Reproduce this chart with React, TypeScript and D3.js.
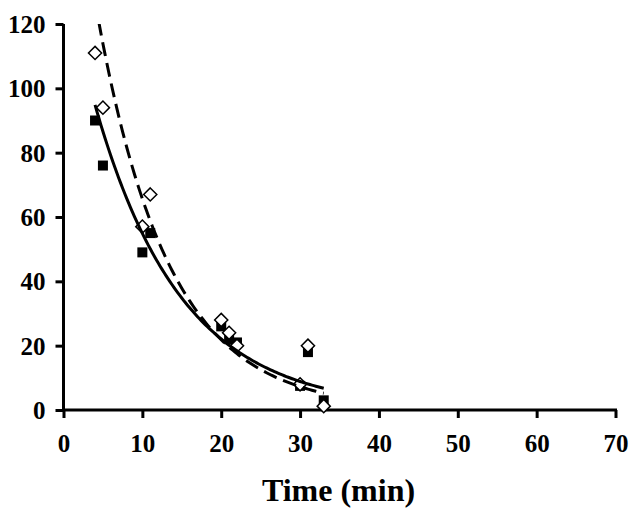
import React, { useEffect, useRef } from 'react';
import * as d3 from 'd3';

// time (min)
const timesFilled = [4, 5, 10, 11, 20, 21, 22, 30, 31, 33];
const valuesFilled = [90, 76, 49, 55, 26, 22, 21, 7.5, 18, 3];
const timesOpen = [4, 5, 10, 11, 20, 21, 22, 30, 31, 33];
const valuesOpen = [111, 94, 57, 67, 28, 24, 20, 8, 20, 1.2];

const xTicks = [0, 10, 20, 30, 40, 50, 60, 70];
const yTicks = [0, 20, 40, 60, 80, 100, 120];
const xTitle = 'Time (min)';

// exponential trendline, least squares on ln(y)
function expFit(xs: number[], ys: number[]) {
  const ly = ys.map(v => Math.log(v));
  const mx = d3.mean(xs) as number;
  const my = d3.mean(ly) as number;
  let sxy = 0, sxx = 0;
  xs.forEach((x, i) => { sxy += (x - mx) * (ly[i] - my); sxx += (x - mx) * (x - mx); });
  const b = sxy / sxx;
  const a = Math.exp(my - b * mx);
  return (x: number) => a * Math.exp(b * x);
}

const W = 637, H = 516;
const left = 63.5, right = 615.5, top = 24, bottom = 410;

const App = () => {
  const ref = useRef<SVGSVGElement>(null);

  useEffect(() => {
    const svg = d3.select(ref.current);
    svg.selectAll('*').remove();

    const x = d3.scaleLinear().domain([0, 70]).range([left, right]);
    const y = d3.scaleLinear().domain([0, 120]).range([bottom, top]);
    const font = '"Liberation Serif", "Times New Roman", serif';

    svg.append('defs').append('clipPath').attr('id', 'plot')
      .append('rect').attr('x', left).attr('y', top).attr('width', right - left).attr('height', bottom - top);

    const xAxis = svg.append('g').attr('transform', `translate(0,${bottom})`)
      .call(d3.axisBottom(x).tickValues(xTicks).tickSize(8).tickPadding(16).tickSizeOuter(0));
    const yAxis = svg.append('g').attr('transform', `translate(${left},0)`)
      .call(d3.axisLeft(y).tickValues(yTicks).tickSize(8).tickPadding(10).tickSizeOuter(0));

    [xAxis, yAxis].forEach(g => {
      g.select('.domain').attr('stroke', '#000').attr('stroke-width', 3);
      g.selectAll('.tick line').attr('stroke', '#000').attr('stroke-width', 3);
      g.selectAll('.tick text').attr('font-family', font).attr('font-weight', 'bold')
        .attr('font-size', 25).attr('fill', '#000');
    });
    xAxis.select('.domain').attr('d', `M${left - 1.5},0H${right + 1.5}`);
    yAxis.select('.domain').attr('d', `M0,${top}V${bottom + 1.5}`);
    yAxis.selectAll('.tick text').attr('dy', '0.34em');

    svg.append('text')
      .attr('x', 338.5).attr('y', 501)
      .attr('text-anchor', 'middle')
      .attr('font-family', font).attr('font-weight', 'bold').attr('font-size', 32)
      .text(xTitle);

    const filled = timesFilled.map((t, i) => [t, valuesFilled[i]]);
    const open = timesOpen.map((t, i) => [t, valuesOpen[i]]);

    svg.append('g').selectAll('rect').data(filled).enter().append('rect')
      .attr('x', d => x(d[0]) - 5).attr('y', d => y(d[1]) - 5)
      .attr('width', 10).attr('height', 10).attr('fill', '#000');

    const diamond = d3.symbol().type(d3.symbolDiamond2).size(110);
    svg.append('g').selectAll('path').data(open).enter().append('path')
      .attr('transform', d => `translate(${x(d[0])},${y(d[1])})`)
      .attr('d', diamond()).attr('fill', '#fff').attr('stroke', '#000').attr('stroke-width', 1.5);

    const fitF = expFit(timesFilled, valuesFilled);
    const fitO = expFit(timesOpen, valuesOpen);
    const xsF = d3.range(d3.min(timesFilled) as number, (d3.max(timesFilled) as number) + 0.001, 0.25);
    const xsO = d3.range(d3.min(timesOpen) as number, (d3.max(timesOpen) as number) + 0.001, 0.25);
    const line = d3.line<number[]>().x(d => x(d[0])).y(d => y(d[1]));

    const g = svg.append('g').attr('clip-path', 'url(#plot)');
    g.append('path').datum(xsF.map(t => [t, fitF(t)]))
      .attr('d', line).attr('fill', 'none').attr('stroke', '#000').attr('stroke-width', 3);
    g.append('path').datum(xsO.map(t => [t, fitO(t)]))
      .attr('d', line).attr('fill', 'none').attr('stroke', '#000').attr('stroke-width', 3)
      .attr('stroke-dasharray', '14,7');
  }, []);

  return <svg ref={ref} width={W} height={H} style={{ position: 'absolute', left: 0, top: 0 }} />;
};

export default App;
